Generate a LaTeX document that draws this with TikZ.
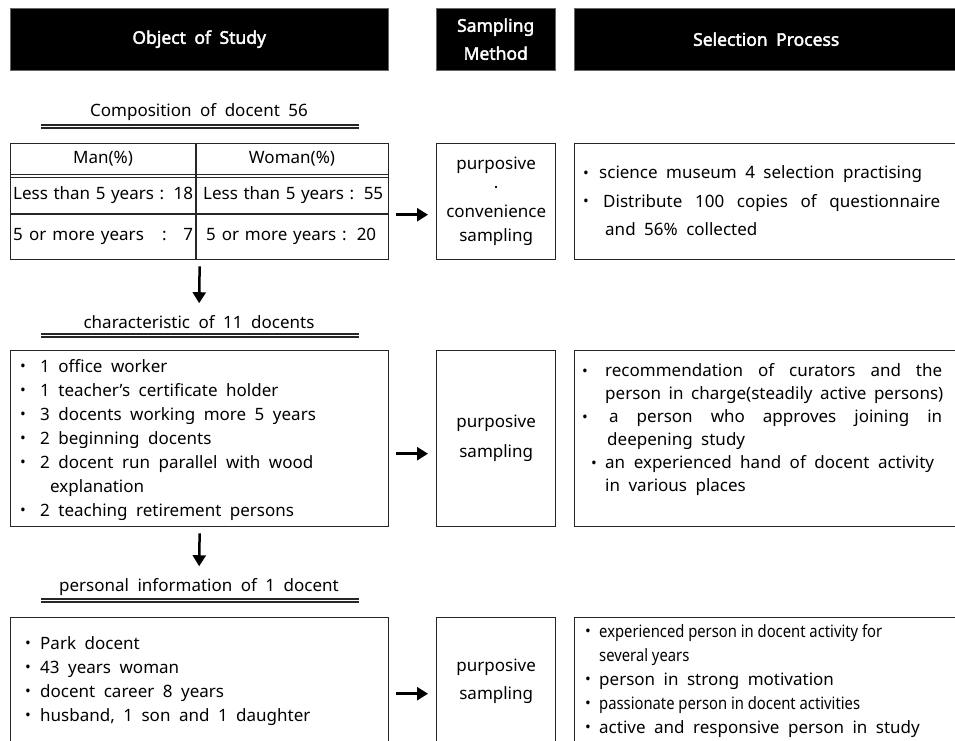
\documentclass[tikz,border=0pt]{standalone}
\usepackage{fontspec}
\setmainfont[BoldFont=*, BoldFeatures={FakeBold=2.2}]{Noto Sans}
\newfontfamily\narrowfont[FakeStretch=0.87]{Noto Sans}
\usetikzlibrary{arrows.meta}

\newcommand{\widesp}{\spaceskip=8.5pt plus 20pt minus 1pt\relax}
\newcommand{\plainsp}{\spaceskip=0pt\relax}
\newcommand{\bul}[1][16pt]{\makebox[#1][l]{\raisebox{0.5pt}{\scalebox{0.9}{\textbullet}}}}
\newcommand{\cell}[2][180pt]{{\spaceskip=3pt plus 30pt minus 1pt\relax\makebox[#1][s]{#2}}}

\begin{document}
\begin{tikzpicture}[x=1pt, y=-1pt, font=\fontsize{17}{24}\selectfont\widesp,
    head/.style={fill=black, draw=black!60, text=white, font=\bfseries\fontsize{17.5}{28}\selectfont\widesp,
      align=center, anchor=north west, minimum height=62pt, inner sep=0pt},
    box/.style={draw=black!85, line width=1.4pt, anchor=north west, inner sep=0pt, align=center},
    list/.style={anchor=west, align=left, inner sep=0pt},
    title/.style={inner sep=0pt},
    rule/.style={line width=1.1pt, draw=black!85},
    arr/.style={-{Triangle[length=11pt,width=13pt]}, line width=2.5pt}]
    \useasboundingbox (0,0) rectangle (955,740);
    \clip (0,0) rectangle (955,740);

    % --- column headers ---
    \node[head, minimum width=378pt] (hobj) at (10,8) {Object of Study};
    \node[head, minimum width=119pt] (hsamp) at (436,8) {Sampling\\Method};
    \node[head, minimum width=384pt] (hsel) at (574,8) {Selection Process};

    % --- composition of docent 56 ---
    \node[title] (tcomp) at (199,112) {Composition of docent 56};
    \draw[rule] (41,125) -- (359,125) (41,128) -- (359,128);

    \node[box, minimum width=378pt, minimum height=116pt] (comp) at (10,143) {};
    \draw[rule] (10,174.5) -- (388,174.5) (10,177.5) -- (388,177.5);
    \draw[rule] (10,214) -- (388,214);
    \draw[rule] (196,143) -- (196,259);
    \node (man) at (103,159) {Man(\%)};
    \node (woman) at (292,159) {Woman(\%)};
    \node[list] (man1) at (13,195) {\cell{Less than 5 years : 18}};
    \node[list] (woman1) at (203,195) {\cell{Less than 5 years : 55}};
    \node[list] (man2) at (13,236) {\cell{5 or more years \ \ : \ 7}};
    \node[list] (woman2) at (206,236) {\cell[170pt]{5 or more years : 20}};

    \node[box, minimum width=119pt, minimum height=116pt] (samp1) at (436,143)
      {purposive\\·\\convenience\\sampling};
    \node[box, minimum width=386pt, minimum height=116pt] (sel1) at (574,143) {};
    \node[list, font=\fontsize{17}{28.5}\selectfont\widesp] (sel1txt) at (583,201)
      {\bul science museum 4 selection practising\\
       \bul[20pt]\makebox[337pt][s]{Distribute 100 copies of questionnaire}\\
       \hspace{22pt}and 56\% collected};

    \draw[arr, shorten <=7pt, shorten >=8pt] ([yshift=-13pt]comp.east) -- ([yshift=-13pt]samp1.west);

    % --- characteristic of 11 docents ---
    \node[title] (tchar) at (199,322) {characteristic of 11 docents};
    \draw[rule] (41,334) -- (359,334) (41,337) -- (359,337);
    \draw[arr, shorten <=6pt, shorten >=12pt] (comp.south) -- (tchar.north);

    \node[box, minimum width=378pt, minimum height=176pt] (chr) at (10,350) {};
    \node[list] (chrtxt) at (20,440)
      {\bul[20pt]1 office worker\\
       \bul[20pt]1 teacher{\char"27}s certificate holder\\
       \bul[20pt]3 docents working more 5 years\\
       \bul[20pt]2 beginning docents\\
       \bul[20pt]2 docent run parallel with wood\\
       \hspace{30pt}explanation\\
       \bul[20pt]2 teaching retirement persons};

    \node[box, minimum width=119pt, minimum height=176pt, font=\fontsize{17}{30}\selectfont] (samp2) at (436,350)
      {purposive\\sampling};
    \node[box, minimum width=386pt, minimum height=176pt] (sel2) at (574,350) {};
    \node[list, font=\fontsize{17}{23}\selectfont\widesp] (sel2txt) at (582,430)
      {\bul[23pt]\makebox[337pt][s]{recommendation of curators and the}\\
       \hspace{23pt}\makebox[337pt][s]{person in charge(steadily active persons)}\\
       \bul[27pt]\makebox[333pt][s]{a person who approves joining in}\\
       \hspace{25pt}deepening study\\
       \hspace{9pt}\bul[14pt]an experienced hand of docent activity\\
       \hspace{23pt}in various places};

    \draw[arr, shorten <=7pt, shorten >=8pt] ([yshift=-15pt]chr.east) -- ([yshift=-15pt]samp2.west);

    % --- personal information of 1 docent ---
    \node[title] (tpers) at (199,587) {personal information of 1 docent};
    \draw[rule] (41,599) -- (359,599) (41,602) -- (359,602);
    \draw[arr, shorten <=6pt, shorten >=12pt] (chr.south) -- (tpers.north);

    \node[box, minimum width=378pt, minimum height=128pt] (pers) at (10,617) {};
    \node[list] (perstxt) at (25,681)
      {\bul[15pt]Park docent\\
       \bul[15pt]43 years woman\\
       \bul[15pt]docent career 8 years\\
       \bul[15pt]husband, 1 son and 1 daughter};

    \node[box, minimum width=119pt, minimum height=128pt, font=\fontsize{17}{28}\selectfont] (samp3) at (436,617)
      {purposive\\sampling};
    \node[box, minimum width=386pt, minimum height=128pt] (sel3) at (574,617) {};
    \node[list] (sel3txt) at (585,681)
      {\bul[14pt]{\narrowfont\plainsp experienced person in docent activity for}\\
       \hspace{14pt}{\narrowfont\plainsp several years}\\
       \bul[14pt]person in strong motivation\\
       \bul[14pt]{\narrowfont\plainsp passionate person in docent activities}\\
       \bul[14pt]active and responsive person in study};

    \draw[arr, shorten <=7pt, shorten >=8pt] ([yshift=-12pt]pers.east) -- ([yshift=-12pt]samp3.west);
\end{tikzpicture}
\end{document}
